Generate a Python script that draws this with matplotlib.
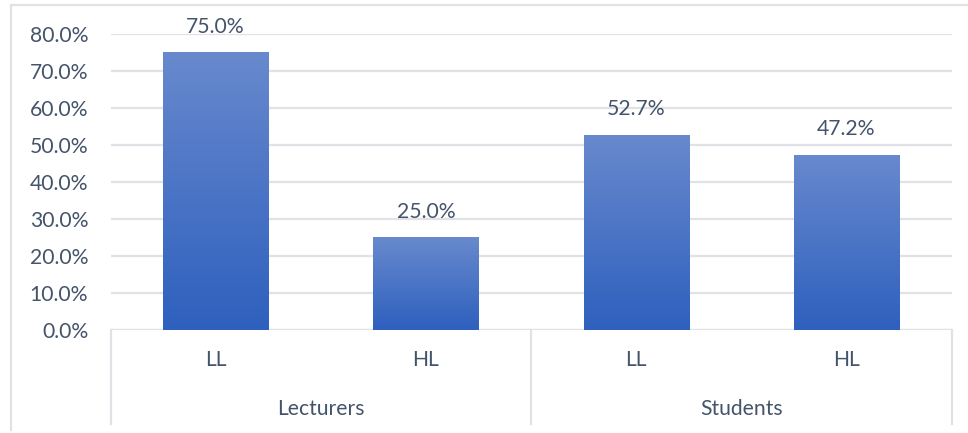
import numpy as np
import matplotlib.pyplot as plt
from matplotlib.lines import Line2D
from matplotlib.colors import LinearSegmentedColormap

plt.rcParams['font.family'] = ['Lato', 'DejaVu Sans']

groups = ['Lecturers', 'Students']
levels = ['LL', 'HL', 'LL', 'HL']
values = [75.0, 25.0, 52.7, 47.2]
yticks = [0, 10, 20, 30, 40, 50, 60, 70, 80]

text_color = '#44546a'
grid_color = '#dfe2e7'
fs = 15.2
bar_cmap = LinearSegmentedColormap.from_list('bar', ['#2e60be', '#6889cd'])

W, H = 968, 433
fig = plt.figure(figsize=(W / 100, H / 100), dpi=100)

left, right = 110.5 / W, 951.5 / W
bottom, top = (H - 330) / H, (H - 34) / H
ax = fig.add_axes([left, bottom, right - left, top - bottom])

x = np.arange(len(values))
width = 0.5
bars = ax.bar(x, values, width=width, color='none', zorder=3)
grad = np.linspace(0, 1, 256).reshape(-1, 1)
for b in bars:
    x0, w, h = b.get_x(), b.get_width(), b.get_height()
    ax.imshow(grad, cmap=bar_cmap, origin='lower', aspect='auto',
              extent=(x0, x0 + w, 0, h), zorder=3)

for xi, v in zip(x, values):
    ax.text(xi, v + 5.4, f'{v:.1f}%', ha='center', va='baseline',
            fontsize=fs, color=text_color, zorder=4, clip_on=False)

ax.set_xlim(-0.5, len(values) - 0.5)
ax.set_ylim(0, 80)
ax.set_yticks(yticks)
ax.set_yticklabels([f'{t:.1f}%' for t in yticks], fontsize=fs, color=text_color)
ax.tick_params(axis='y', length=0, pad=16)
ax.set_xticks([])
for s in ax.spines.values():
    s.set_visible(False)
ax.grid(axis='y', color=grid_color, linewidth=1.6, zorder=0)
ax.axhline(0, color=grid_color, linewidth=1.6, zorder=1)

# category axis: level labels, group labels and dividing lines
tr = ax.get_xaxis_transform()
for xi, lab in zip(x, levels):
    ax.text(xi, -0.1, lab, transform=tr, ha='center', va='center',
            fontsize=fs, color=text_color, clip_on=False)
for gi, g in enumerate(groups):
    ax.text(gi * 2 + 0.5, -0.267, g, transform=tr, ha='center', va='center',
            fontsize=fs, color=text_color, clip_on=False)
line_bottom = (H - 424) / H
y_ax0 = (H - 330) / H
for xd in [-0.5, 1.5, 3.5]:
    xf = left + (xd + 0.5) / len(values) * (right - left)
    fig.add_artist(Line2D([xf, xf], [line_bottom, y_ax0], color=grid_color,
                          linewidth=1.6, transform=fig.transFigure))

# chart border
border_x = 11 / W
border_y = (H - 5) / H
fig.add_artist(Line2D([border_x, border_x], [(H - 430) / H, border_y],
                      color=grid_color, linewidth=1.6, transform=fig.transFigure))
fig.add_artist(Line2D([border_x, 1.0], [border_y, border_y],
                      color=grid_color, linewidth=1.6, transform=fig.transFigure))

fig.savefig('out.png', dpi=100)
